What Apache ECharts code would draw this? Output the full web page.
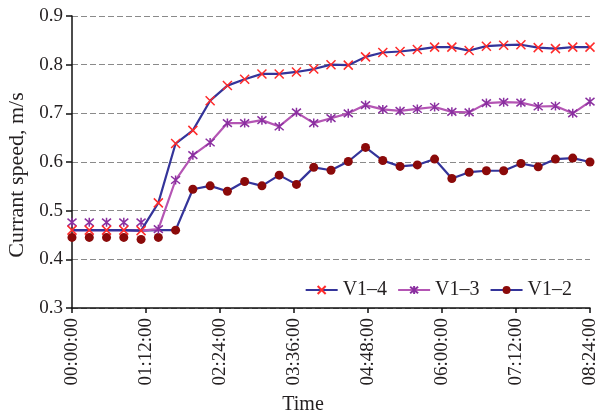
<!DOCTYPE html>
<html><head><meta charset="utf-8">
<script src="https://cdn.jsdelivr.net/npm/echarts@6/dist/echarts.min.js"></script>
<style>html,body{margin:0;padding:0;background:#fff}#c{width:597px;height:418px}</style>
</head><body><div id="c"></div>
<script>
// time of each sample, minutes from start
const timesMin = [0,16.8,33.6,50.4,67.2,84,100.8,117.6,134.4,151.2,168,184.8,201.6,218.4,235.2,252,268.8,285.6,302.4,319.2,336,352.8,369.6,386.4,403.2,420,436.8,453.6,470.4,487.2,504];
const xTicksMin = [0,72,144,216,288,360,432,504];
const xTickLabels = ['00:00:00','01:12:00','02:24:00','03:36:00','04:48:00','06:00:00','07:12:00','08:24:00'];
const seriesNames = ['V1\u20134','V1\u20133','V1\u20132'];
// line values
const v14 = [0.46,0.46,0.46,0.46,0.459,0.516,0.638,0.665,0.726,0.757,0.770,0.781,0.781,0.785,0.791,0.800,0.799,0.816,0.825,0.827,0.831,0.836,0.836,0.829,0.838,0.840,0.841,0.835,0.833,0.836,0.836];
const v13 = [0.46,0.46,0.46,0.46,0.459,0.462,0.563,0.614,0.640,0.680,0.680,0.686,0.673,0.702,0.680,0.690,0.700,0.717,0.708,0.705,0.709,0.713,0.703,0.702,0.721,0.723,0.722,0.714,0.715,0.700,0.724];
const v12 = [0.46,0.46,0.46,0.46,0.459,0.46,0.46,0.544,0.551,0.540,0.560,0.551,0.573,0.554,0.589,0.583,0.601,0.630,0.603,0.591,0.594,0.606,0.566,0.579,0.582,0.582,0.597,0.590,0.606,0.608,0.600];
// early markers drawn off the line in the original figure
const v13EarlyMarks = [0.476,0.476,0.476,0.476,0.476];
const v12EarlyMarks = [0.445,0.445,0.445,0.445,0.441,0.445];

const BLUE = '#34349a', PURPLE_LINE = '#b455b4', PURPLE_MARK = '#8a2fa0', RED = '#ff2b2b', DRED = '#8b0a0a';
const xPath = 'path://M0,0L10,10M10,0L0,10';
const starPath = 'path://M0,0L10,10M10,0L0,10M5,-1L5,11';
const fmt = m => { const h = Math.floor(m/60), mm = Math.round(m%60); return String(h).padStart(2,'0')+':'+String(mm).padStart(2,'0')+':00'; };

function lineData(vals, nHidden){
  return vals.map((v,i)=> i < nHidden ? {value:[timesMin[i],v], symbol:'none'} : [timesMin[i],v]);
}
function markData(vals){ return vals.map((v,i)=>[timesMin[i],v]); }

const chart = echarts.init(document.getElementById('c'), null, {renderer:'canvas'});
const font = 'Liberation Serif';
const TXT = '#231f20';
chart.setOption({
  animation:false,
  textStyle:{fontFamily:font},
  grid:{left:72,right:7,top:16,bottom:110,containLabel:false,outerBoundsMode:'none'},
  legend:{
    data:seriesNames, right:20, top:275, itemWidth:32, itemHeight:10, itemGap:10,
    textStyle:{fontFamily:font,fontSize:20,color:TXT}
  },
  xAxis:{
    type:'value', min:0, max:504, interval:72,
    name:'Time', nameLocation:'middle', nameGap:87,
    nameTextStyle:{fontFamily:font,fontSize:20,color:TXT,padding:[0,56,0,0]},
    axisLine:{lineStyle:{color:'#111',width:1.5}},
    axisTick:{show:true,length:5,lineStyle:{color:'#111',width:1.5}},
    axisLabel:{rotate:90,fontFamily:font,fontSize:19,color:TXT,margin:10,
      formatter:v=>{const k=xTicksMin.indexOf(v);return k>=0?xTickLabels[k]:fmt(v);}},
    splitLine:{show:false}
  },
  yAxis:{
    type:'value', min:0.3, max:0.9, interval:0.1,
    name:'Currant speed, m/s', nameLocation:'middle', nameGap:42,
    nameTextStyle:{fontFamily:font,fontSize:22,color:TXT,padding:[0,26,0,0]},
    axisLine:{show:true,lineStyle:{color:'#111',width:1.5}},
    axisTick:{show:true,length:6,lineStyle:{color:'#111',width:1.5}},
    axisLabel:{fontFamily:font,fontSize:19,color:TXT,margin:9,formatter:v=>v.toFixed(1)},
    splitLine:{show:true,lineStyle:{color:'#8a8a8a',width:1.2,type:[6,3]}}
  },
  series:[
    {name:seriesNames[2],type:'line',data:lineData(v12,v12EarlyMarks.length),symbol:'circle',symbolSize:9,clip:false,
      lineStyle:{color:BLUE,width:2.2},itemStyle:{color:DRED,borderColor:DRED,borderWidth:0},z:2},
    {name:seriesNames[2],type:'scatter',data:markData(v12EarlyMarks),symbol:'circle',symbolSize:9,clip:false,
      itemStyle:{color:DRED,opacity:1},z:2},
    {name:seriesNames[1],type:'line',data:lineData(v13,v13EarlyMarks.length),symbol:starPath,symbolSize:9,clip:false,
      lineStyle:{color:PURPLE_LINE,width:2.2},itemStyle:{color:PURPLE_MARK,borderColor:PURPLE_MARK,borderWidth:1.5},z:3},
    {name:seriesNames[1],type:'scatter',data:markData(v13EarlyMarks),symbol:starPath,symbolSize:9,clip:false,
      itemStyle:{color:PURPLE_MARK,borderColor:PURPLE_MARK,borderWidth:1.5,opacity:1},z:3},
    {name:seriesNames[0],type:'line',data:lineData(v14,0),symbol:xPath,symbolSize:9,clip:false,
      lineStyle:{color:BLUE,width:2.2},itemStyle:{color:RED,borderColor:RED,borderWidth:1.5},z:4}
  ]
});
</script></body></html>
